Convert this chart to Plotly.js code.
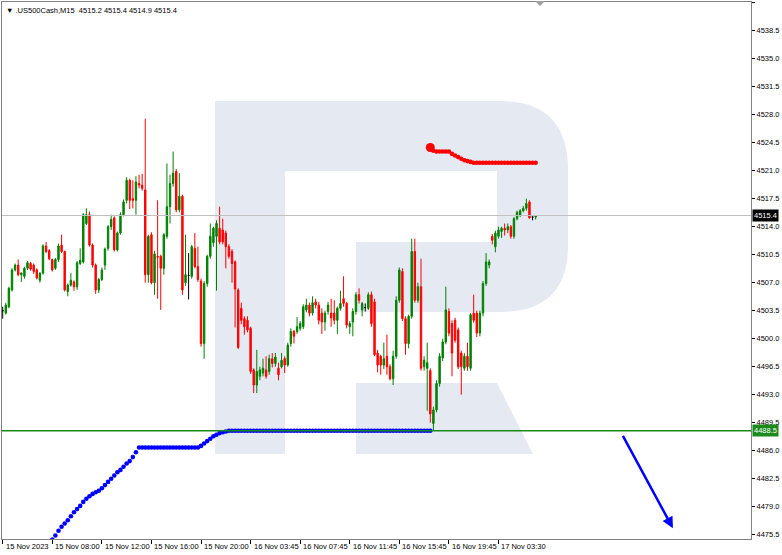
<!DOCTYPE html>
<html><head><meta charset="utf-8">
<script src="https://cdn.plot.ly/plotly-3.0.1.min.js"></script>
<style>html,body{margin:0;padding:0;background:#fff}#chart{width:782px;height:555px}</style>
</head><body><div id="chart"></div>
<script>
// ---- data (M15 bars) ----
const openP = [4503.5,4503.2,4504.0,4506.1,4508.6,4509.2,4508.0,4507.8,4508.8,4509.4,
4509.2,4508.6,4507.3,4508.2,4511.6,4511.0,4509.9,4508.8,4509.9,4511.7,
4510.9,4505.9,4506.7,4507.1,4506.5,4509.4,4509.6,4514.4,4515.5,4511.7,
4509.2,4506.1,4507.4,4509.2,4511.3,4514.0,4515.1,4511.1,4513.2,4515.5,
4517.3,4519.8,4517.5,4517.3,4519.4,4519.2,4518.6,4508.0,4513.0,4507.0,
4510.3,4510.3,4508.8,4512.8,4516.5,4519.4,4520.9,4516.1,4517.8,4507.0,
4507.9,4507.8,4511.3,4509.0,4507.2,4499.4,4506.9,4510.3,4512.0,4512.8,
4513.8,4513.6,4513.2,4511.5,4510.9,4509.6,4506.1,4503.8,4502.5,4502.3,
4501.3,4496.1,4494.2,4495.3,4495.7,4496.1,4495.9,4497.5,4496.9,4496.3,
4496.5,4497.5,4496.7,4499.4,4500.9,4500.9,4501.3,4501.5,4503.6,4504.2,
4503.2,4504.6,4504.2,4503.2,4502.1,4503.4,4503.2,4503.2,4502.3,4503.8,
4505.0,4504.4,4501.5,4502.1,4503.4,4505.5,4503.6,4503.9,4503.8,4505.5,
4504.6,4498.2,4497.8,4496.7,4497.8,4496.5,4495.0,4497.8,4504.8,4508.4,
4502.5,4499.4,4502.8,4510.9,4504.8,4506.5,4496.5,4496.3,4496.0,4489.4,
4491.1,4494.4,4497.6,4499.6,4503.4,4501.9,4502.3,4501.1,4498.2,4496.3,
4497.8,4496.3,4503.2,4503.2,4500.7,4503.2,4506.9,4509.2,4512.8,4511.5,
4512.8,4513.4,4513.8,4513.6,4514.0,4512.8,4515.0,4515.4,4516.0,4516.3,
4517.1,4515.2,4515.2];
const highP = [4504.0,4504.5,4506.5,4508.8,4509.4,4509.9,4508.3,4509.0,4509.7,4509.6,
4509.4,4508.8,4508.3,4511.8,4512.1,4511.2,4510.0,4510.1,4511.9,4513.0,
4511.0,4506.9,4508.2,4507.3,4509.7,4511.3,4515.7,4516.3,4515.9,4511.9,
4509.4,4507.6,4508.9,4511.4,4514.2,4515.5,4515.3,4513.4,4515.8,4517.4,
4520.2,4520.0,4519.8,4520.3,4520.5,4520.6,4527.5,4513.0,4513.3,4511.0,
4517.3,4510.5,4513.2,4521.9,4520.5,4523.4,4521.2,4520.7,4518.0,4513.0,
4510.7,4511.7,4513.2,4511.5,4507.5,4507.2,4510.5,4514.4,4514.0,4514.8,
4516.5,4515.0,4513.5,4511.8,4511.2,4509.8,4506.3,4504.5,4502.8,4502.8,
4501.5,4496.3,4498.6,4496.5,4497.5,4497.8,4498.0,4498.2,4498.2,4497.0,
4498.2,4497.8,4499.5,4501.3,4501.1,4502.7,4502.2,4504.3,4505.0,4504.5,
4505.3,4505.0,4504.6,4503.8,4503.5,4504.6,4505.0,4504.8,4504.0,4506.0,
4507.8,4504.6,4502.2,4503.8,4505.8,4506.3,4504.6,4504.4,4505.8,4505.9,
4505.0,4498.6,4498.0,4499.5,4500.5,4496.8,4498.5,4505.3,4508.9,4508.8,
4502.8,4503.0,4512.5,4512.5,4507.0,4510.0,4497.8,4499.5,4496.3,4491.5,
4494.8,4498.2,4500.0,4506.5,4503.8,4502.3,4502.6,4501.4,4498.5,4498.2,
4499.5,4503.2,4505.5,4503.5,4503.5,4507.2,4510.7,4509.9,4513.1,4513.5,
4514.0,4514.0,4514.4,4514.4,4514.2,4515.2,4516.0,4516.2,4516.6,4517.5,
4517.3,4515.3,4515.4];
const lowP = [4502.5,4503.0,4503.8,4505.9,4508.4,4507.8,4507.1,4507.5,4508.6,4508.5,
4508.1,4507.4,4507.0,4508.0,4510.7,4509.8,4508.4,4508.6,4509.6,4510.7,
4505.9,4505.3,4506.5,4506.0,4506.1,4509.2,4509.4,4514.2,4511.5,4508.9,
4505.6,4505.7,4507.2,4508.6,4511.0,4513.6,4510.9,4510.9,4513.0,4515.3,
4516.9,4516.2,4516.3,4515.5,4518.8,4518.5,4507.0,4507.0,4506.8,4505.5,
4505.0,4503.6,4508.0,4512.5,4514.4,4519.0,4515.8,4515.8,4505.5,4506.6,
4504.9,4507.5,4508.8,4507.1,4499.0,4497.5,4506.5,4510.0,4511.5,4506.0,
4511.8,4511.8,4508.8,4510.0,4507.0,4501.4,4498.7,4501.8,4500.5,4500.8,
4495.6,4493.2,4493.2,4494.8,4495.3,4495.0,4495.5,4496.4,4496.5,4494.8,
4496.3,4495.7,4496.5,4499.0,4499.4,4500.6,4501.0,4501.2,4503.3,4502.8,
4502.9,4503.8,4501.8,4500.6,4501.0,4503.0,4501.5,4501.8,4500.6,4503.5,
4504.0,4501.3,4500.6,4500.3,4503.0,4504.4,4502.8,4503.4,4503.6,4501.5,
4497.8,4495.8,4495.5,4496.2,4495.5,4494.8,4494.2,4497.5,4504.5,4502.2,
4498.0,4498.8,4502.5,4504.5,4504.5,4496.0,4496.0,4491.0,4489.5,4488.5,
4490.8,4494.0,4497.2,4499.3,4500.3,4495.3,4499.5,4496.2,4493.0,4496.0,
4496.0,4496.0,4502.0,4500.2,4500.3,4502.8,4506.6,4508.8,4511.8,4510.8,
4512.5,4512.6,4512.9,4513.2,4512.5,4512.5,4514.8,4515.2,4515.8,4516.0,
4515.0,4514.8,4514.9];
const closeP = [4503.5,4504.2,4506.3,4508.6,4509.2,4508.0,4508.2,4508.8,4509.5,4508.7,
4508.4,4507.6,4508.2,4511.6,4510.9,4510.0,4508.6,4509.9,4511.6,4510.9,
4506.1,4506.7,4507.3,4506.5,4509.5,4509.8,4515.5,4515.5,4511.7,4509.2,
4506.1,4507.4,4508.6,4511.2,4514.0,4514.9,4511.1,4513.2,4515.5,4517.1,
4519.8,4517.3,4517.3,4519.6,4519.2,4518.8,4508.0,4512.8,4507.0,4510.6,
4510.2,4508.8,4513.0,4516.5,4519.4,4520.7,4516.1,4517.8,4506.1,4508.0,
4507.9,4511.5,4509.0,4507.4,4499.4,4506.9,4510.3,4512.8,4513.8,4514.4,
4512.1,4512.1,4511.5,4510.3,4509.4,4506.2,4498.9,4502.3,4501.5,4501.1,
4495.9,4494.2,4495.9,4496.1,4496.3,4495.3,4497.5,4496.9,4497.7,4495.5,
4497.3,4496.7,4499.2,4500.9,4500.3,4501.5,4501.9,4504.0,4504.2,4503.2,
4504.5,4504.2,4502.3,4502.1,4503.2,4504.2,4502.6,4502.3,4503.8,4504.4,
4504.4,4501.7,4501.9,4503.4,4505.5,4504.8,4504.4,4503.9,4505.5,4501.9,
4498.0,4496.7,4496.7,4497.5,4496.5,4495.0,4497.8,4504.8,4508.6,4502.5,
4499.4,4502.8,4510.9,4504.8,4506.5,4496.3,4497.3,4497.0,4490.6,4491.1,
4494.4,4497.8,4499.6,4503.6,4500.7,4498.2,4499.8,4496.5,4496.5,4497.8,
4496.5,4503.0,4502.3,4500.7,4503.2,4506.9,4509.6,4509.6,4512.3,4513.2,
4513.6,4513.8,4513.6,4514.0,4512.8,4515.0,4515.8,4516.0,4516.3,4516.9,
4515.1,4515.2,4515.4];

const xTickBars = [0,16,32,48,64,80,96,112,128,144,160];
const xTickLabels = ["15 Nov 2023","15 Nov 08:00","15 Nov 12:00","15 Nov 16:00","15 Nov 20:00",
  "16 Nov 03:45","16 Nov 07:45","16 Nov 11:45","16 Nov 15:45","16 Nov 19:45","17 Nov 03:30"];

const blueStart = 16;
const blueVals = [4474.9,4475.4,4476.0,4476.5,4476.9,4477.3,4477.8,4478.3,4478.7,4479.1,
4479.6,4480.0,4480.3,4480.6,4480.8,4481.0,4481.3,4481.7,4482.1,4482.5,
4482.9,4483.3,4483.6,4484.0,4484.4,4484.7,4485.2,4485.8,4486.4,
4486.4,4486.4,4486.4,4486.4,4486.4,4486.4,4486.4,4486.4,4486.4,4486.4,
4486.4,4486.4,4486.4,4486.4,4486.4,4486.4,4486.4,4486.4,4486.4,
4486.6,4486.9,4487.2,4487.5,4487.8,4488.0,4488.2,4488.3,4488.4,
4488.5,4488.5,4488.5,4488.5,4488.5,4488.5,4488.5,4488.5,4488.5,4488.5,
4488.5,4488.5,4488.5,4488.5,4488.5,4488.5,4488.5,4488.5,4488.5,4488.5,
4488.5,4488.5,4488.5,4488.5,4488.5,4488.5,4488.5,4488.5,4488.5,4488.5,
4488.5,4488.5,4488.5,4488.5,4488.5,4488.5,4488.5,4488.5,4488.5,4488.5,
4488.5,4488.5,4488.5,4488.5,4488.5,4488.5,4488.5,4488.5,4488.5,4488.5,
4488.5,4488.5,4488.5,4488.5,4488.5,4488.5,4488.5,4488.5,4488.5,4488.5,
4488.5,4488.5,4488.5,4488.5,4488.5,4488.5];

const redStart = 138;
const redVals = [4523.9,4523.5,4523.4,4523.4,4523.4,4523.4,4523.4,
4523.1,4522.9,4522.7,4522.5,4522.3,4522.2,4522.1,
4522.0,4522.0,4522.0,4522.0,4522.0,4522.0,4522.0,4522.0,4522.0,4522.0,
4522.0,4522.0,4522.0,4522.0,4522.0,4522.0,4522.0,4522.0,4522.0,4522.0,4522.0];

const bidPrice = 4515.4;
const levelPrice = 4488.5;
const headerText = ".US500Cash,M15\u00a0\u00a04515.2 4515.4 4514.9 4515.4";
const arrowFrom = [199.9, 4488.05];
const arrowTo = [216.3, 4476.3];

// ---- build ----
const FONT = "Liberation Sans, Arial, sans-serif";
const idx = openP.map((_, i) => i);
const normal = idx.filter(i => openP[i] !== closeP[i]);
const doji = idx.filter(i => openP[i] === closeP[i]);
const pick = (arr, ids) => ids.map(i => arr[i]);

const traces = [
  {type:'candlestick', x: normal, open: pick(openP,normal), high: pick(highP,normal),
   low: pick(lowP,normal), close: pick(closeP,normal), whiskerwidth:0,
   increasing:{line:{color:'#008000',width:1}, fillcolor:'#008000'},
   decreasing:{line:{color:'#ff0000',width:1}, fillcolor:'#ff0000'},
   hoverinfo:'skip', showlegend:false},
  {type:'candlestick', x: doji, open: pick(openP,doji), high: pick(highP,doji),
   low: pick(lowP,doji), close: pick(closeP,doji), whiskerwidth:0,
   increasing:{line:{color:'#000000',width:1}, fillcolor:'#000000'},
   decreasing:{line:{color:'#000000',width:1}, fillcolor:'#000000'},
   hoverinfo:'skip', showlegend:false},
  {type:'scatter', mode:'markers', x: blueVals.map((_, k) => blueStart + k), y: blueVals,
   marker:{color:'#0000ff', size:4.6}, hoverinfo:'skip', showlegend:false, cliponaxis:true},
  {type:'scatter', mode:'markers', x: redVals.map((_, k) => redStart + k), y: redVals,
   marker:{color:'#ff0000', size:4.6}, hoverinfo:'skip', showlegend:false},
  {type:'scatter', mode:'markers', x: [redStart], y: [redVals[0]],
   marker:{color:'#ff0000', size:9}, hoverinfo:'skip', showlegend:false}
];

// pixel -> paper helpers for the watermark logo
const PL = 2, PT = 2, PW = 749, PH = 537;
const P = (x, y) => ((x - PL) / PW).toFixed(4) + ',' + ((PT + PH - y) / PH).toFixed(4);
const logoA = 'M' + P(215,101) + ' L' + P(500,101) + ' Q' + P(568,101) + ' ' + P(568,170) +
  ' L' + P(568,245) + ' Q' + P(568,312) + ' ' + P(500,312) + ' L' + P(356,312) + ' L' + P(356,242) +
  ' L' + P(497,242) + ' L' + P(497,171) + ' L' + P(285,171) + ' L' + P(285,454) + ' L' + P(215,454) + ' Z';
const logoB = 'M' + P(356,383) + ' L' + P(497,383) + ' L' + P(533,454) + ' L' + P(356,454) + ' Z';
const shiftMark = 'M' + P(535,1) + ' L' + P(545,1) + ' L' + P(540,6) + ' Z';

const shapes = [
  {type:'path', xref:'paper', yref:'paper', path: logoA, fillcolor:'#e4e9f2', line:{width:0}, layer:'below'},
  {type:'path', xref:'paper', yref:'paper', path: logoB, fillcolor:'#e4e9f2', line:{width:0}, layer:'below'},
  {type:'line', xref:'paper', yref:'y', x0:0, x1:1, y0:bidPrice, y1:bidPrice, line:{color:'#c0c0c0', width:1}, layer:'above'},
  {type:'line', xref:'paper', yref:'y', x0:0, x1:1, y0:levelPrice, y1:levelPrice, line:{color:'#1a8a1a', width:1.5}, layer:'above'},
  {type:'path', xref:'paper', yref:'paper', path: shiftMark, fillcolor:'#a0a0a0', line:{width:0}}
];

const annotations = xTickBars.map((b, k) => ({
  x: b, xref:'x', y: 0, yref:'paper', yanchor:'top', xanchor:'left', xshift: 1, yshift: -1,
  text: xTickLabels[k], showarrow:false, font:{family:FONT, size:7.5, color:'#000'}
}));
annotations.push({x: 0, xref:'paper', y: 1, yref:'paper', xanchor:'left', yanchor:'top', xshift: 2, yshift: -2,
  text: '\u25BC\u00a0' + headerText, showarrow:false, font:{family:FONT, size:7.5, color:'#000'}});
annotations.push({x: 1, xref:'paper', y: bidPrice, yref:'y', xanchor:'left', xshift: 1,
  text: bidPrice.toFixed(1), showarrow:false, bgcolor:'#000000', borderpad:1,
  font:{family:FONT, size:7.5, color:'#ffffff'}});
annotations.push({x: 1, xref:'paper', y: levelPrice, yref:'y', xanchor:'left', xshift: 1,
  text: levelPrice.toFixed(1), showarrow:false, bgcolor:'#1a8a1a', borderpad:1,
  font:{family:FONT, size:7.5, color:'#ffffff'}});
annotations.push({x: arrowTo[0], y: arrowTo[1], xref:'x', yref:'y', ax: arrowFrom[0], ay: arrowFrom[1],
  axref:'x', ayref:'y', showarrow:true, arrowhead:2, arrowsize:0.9, arrowwidth:2.5, arrowcolor:'#0000ff', text:''});

const layout = {
  width: 782, height: 555,
  margin: {l: PL, r: 782 - PL - PW, t: PT, b: 555 - PT - PH, autoexpand:false},
  paper_bgcolor:'#ffffff', plot_bgcolor:'#ffffff',
  showlegend:false, boxgap:0.35,
  xaxis: {type:'linear', range:[-0.23, 241.5], showgrid:false, zeroline:false,
    rangeslider:{visible:false}, tickvals: xTickBars, ticktext: xTickBars.map(() => ''),
    ticks:'outside', ticklen:4, tickcolor:'#000', showticklabels:false,
    showline:true, linecolor:'#808080', linewidth:1, mirror:true, fixedrange:true},
  yaxis: {range:[4474.96, 4542.09], side:'right', tickmode:'linear', tick0:4475.5, dtick:3.5,
    tickformat:'.1f', ticks:'outside', ticklen:3, tickcolor:'#000', showgrid:false, zeroline:false,
    showline:true, linecolor:'#808080', linewidth:1, mirror:true,
    tickfont:{family:FONT, size:7.5, color:'#000'}, fixedrange:true},
  shapes: shapes,
  annotations: annotations
};

Plotly.newPlot('chart', traces, layout, {staticPlot:true, displayModeBar:false});
</script>
</body></html>
